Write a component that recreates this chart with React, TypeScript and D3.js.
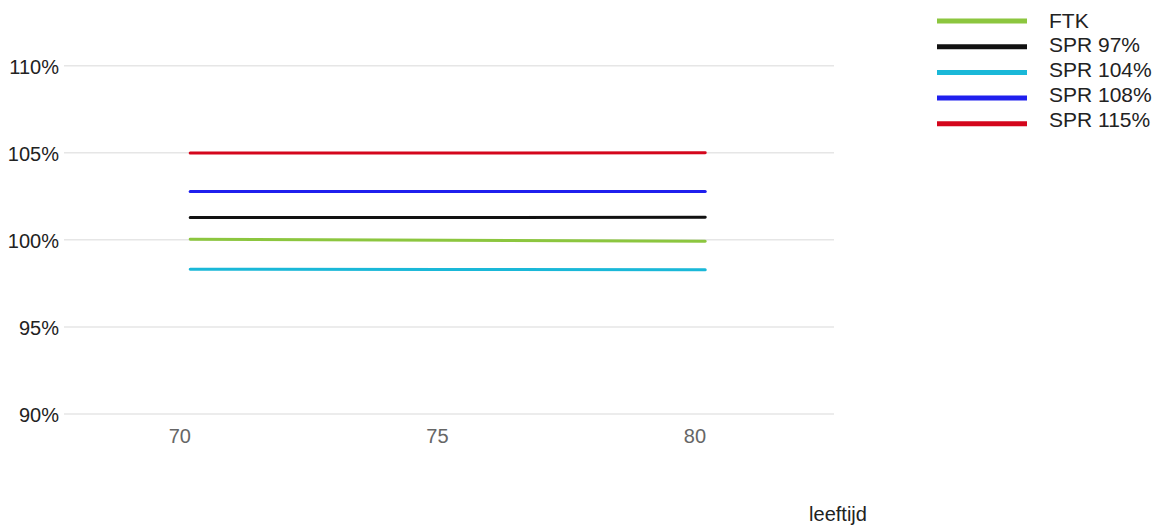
import React from "react";
import * as d3 from "d3";

const ages = [70.2, 75.2, 80.2];
const seriesNames = ["FTK", "SPR 97%", "SPR 104%", "SPR 108%", "SPR 115%"];
const ftk = [100.03, 99.98, 99.92];
const spr97 = [101.28, 101.28, 101.3];
const spr104 = [98.31, 98.3, 98.29];
const spr108 = [102.77, 102.77, 102.77];
const spr115 = [104.98, 104.98, 105.0];
const seriesValues = [ftk, spr97, spr104, spr108, spr115];
const colors = ["#8cc63f", "#111111", "#1ab8d8", "#1f1fee", "#d4061c"];
const yTicks = [90, 95, 100, 105, 110];
const xTicks = [70, 75, 80];
const xTitle = "leeftijd";

const W = 1166;
const H = 525;
const FONT = "Arial, 'Liberation Sans', sans-serif";

export default function App() {
  const x = d3.scaleLinear().domain([67.75, 82.7]).range([64, 834]);
  const y = d3.scaleLinear().domain([90, 110]).range([414, 65.7]);
  const line = d3
    .line<[number, number]>()
    .x((d) => x(d[0]))
    .y((d) => y(d[1]));

  return (
    <svg
      width={W}
      height={H}
      style={{ position: "absolute", left: 0, top: 0, background: "#fff" }}
      fontFamily={FONT}
    >
      {yTicks.map((t) => (
        <g key={t}>
          <line x1={64} x2={834} y1={y(t)} y2={y(t)} stroke="#e6e6e6" strokeWidth={1.5} />
          <text x={59} y={y(t) + 8} textAnchor="end" fontSize={20} fill="#222">
            {t}%
          </text>
        </g>
      ))}
      {xTicks.map((t) => (
        <text key={t} x={x(t)} y={443} textAnchor="middle" fontSize={20} fill="#666">
          {t}
        </text>
      ))}
      <text x={838} y={521} textAnchor="middle" fontSize={20} fill="#222">
        {xTitle}
      </text>
      {seriesValues.map((vals, i) => (
        <path
          key={seriesNames[i]}
          d={line(ages.map((a, j) => [a, vals[j]] as [number, number])) || ""}
          fill="none"
          stroke={colors[i]}
          strokeWidth={3}
          strokeLinecap="round"
        />
      ))}
      {seriesNames.map((n, i) => (
        <g key={n}>
          <line
            x1={937}
            x2={1027}
            y1={21 + i * 25.7}
            y2={21 + i * 25.7}
            stroke={colors[i]}
            strokeWidth={5}
          />
          <text x={1049} y={27.5 + i * 24.8} fontSize={21} fill="#222">
            {n}
          </text>
        </g>
      ))}
    </svg>
  );
}
